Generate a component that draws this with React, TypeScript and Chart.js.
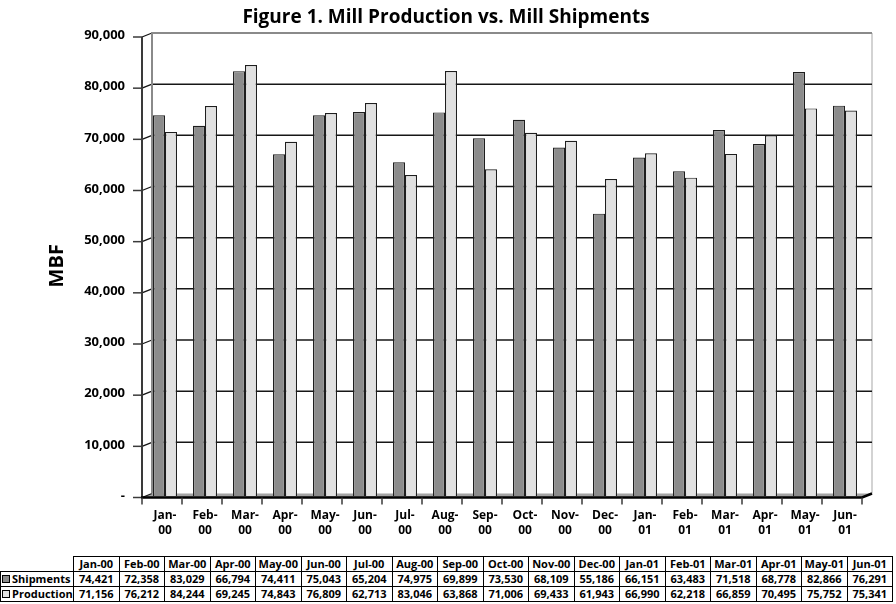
import React, { useEffect, useRef } from "react";
import { Chart, registerables } from "chart.js";

Chart.register(...registerables);

// ---------- data ----------
const categories = [
  "Jan-00", "Feb-00", "Mar-00", "Apr-00", "May-00", "Jun-00", "Jul-00", "Aug-00", "Sep-00",
  "Oct-00", "Nov-00", "Dec-00", "Jan-01", "Feb-01", "Mar-01", "Apr-01", "May-01", "Jun-01",
];
const shipments = [
  74421, 72358, 83029, 66794, 74411, 75043, 65204, 74975, 69899,
  73530, 68109, 55186, 66151, 63483, 71518, 68778, 82866, 76291,
];
const production = [
  71156, 76212, 84244, 69245, 74843, 76809, 62713, 83046, 63868,
  71006, 69433, 61943, 66990, 62218, 66859, 70495, 75752, 75341,
];
const seriesNames = ["Shipments", "Production"];
const seriesColors = ["#8c8c8c", "#e0e0e0"];
const chartTitle = "Figure 1. Mill Production vs. Mill Shipments";
const yAxisTitle = "MBF";
const yMin = 0;
const yMax = 90000;
const yStep = 10000;

// ---------- layout ----------
const FONT = "'Open Sans', 'DejaVu Sans', sans-serif";
const W = 896;
const CH = 550;
const PLOT_L = 145;
const PLOT_R = 865;
const PLOT_T = 35.5;
const PLOT_B = 496;
const FRONT_DX = -3;
const FRONT_DY = 1.5;
const BACK_DX = 7;
const BACK_DY = -2.5;

const fmt = (v: number) => (v === 0 ? "-" : v.toLocaleString("en-US"));

const frame3d = {
  id: "frame3d",
  beforeDatasetsDraw(chart: any) {
    const { ctx, chartArea: a, scales } = chart;
    const y = scales.y;
    const yb = (v: number) => y.getPixelForValue(v) + BACK_DY;
    const yf = (v: number) => y.getPixelForValue(v) + FRONT_DY;
    const bl = a.left + BACK_DX;
    const br = a.right + BACK_DX;
    const fl = a.left + FRONT_DX;
    const fr = a.right + FRONT_DX;
    ctx.save();
    // floor
    ctx.fillStyle = "#a4a4a4";
    ctx.beginPath();
    ctx.moveTo(fl, yf(yMin));
    ctx.lineTo(fr, yf(yMin));
    ctx.lineTo(br, yb(yMin));
    ctx.lineTo(bl, yb(yMin));
    ctx.closePath();
    ctx.fill();
    // right wall edge
    ctx.strokeStyle = "#c4c4c4";
    ctx.lineWidth = 1.5;
    ctx.beginPath();
    ctx.moveTo(br, yb(yMax));
    ctx.lineTo(br, yb(yMin));
    ctx.stroke();
    // gridlines + connectors
    for (let v = yMin + yStep; v < yMax; v += yStep) {
      ctx.strokeStyle = "#161616";
      ctx.lineWidth = 1.5;
      ctx.beginPath();
      ctx.moveTo(bl, yb(v));
      ctx.lineTo(br, yb(v));
      ctx.stroke();
    }
    for (let v = yMin; v <= yMax; v += yStep) {
      ctx.strokeStyle = "#161616";
      ctx.lineWidth = 1.3;
      ctx.beginPath();
      ctx.moveTo(fl, yf(v));
      ctx.lineTo(bl, yb(v));
      ctx.stroke();
    }
    // back wall left & top
    ctx.strokeStyle = "#8a8a8a";
    ctx.lineWidth = 2;
    ctx.beginPath();
    ctx.moveTo(bl, yb(yMin));
    ctx.lineTo(bl, yb(yMax));
    ctx.lineTo(br, yb(yMax));
    ctx.stroke();
    ctx.restore();
  },
  afterDatasetsDraw(chart: any) {
    const { ctx, chartArea: a, scales } = chart;
    const y = scales.y;
    const x = scales.x;
    const yf = (v: number) => y.getPixelForValue(v) + FRONT_DY;
    const yb = (v: number) => y.getPixelForValue(v) + BACK_DY;
    const fl = a.left + FRONT_DX;
    const fr = a.right + FRONT_DX;
    const br = a.right + BACK_DX;
    ctx.save();
    // front vertical axis
    ctx.strokeStyle = "#3a3a3a";
    ctx.lineWidth = 2;
    ctx.beginPath();
    ctx.moveTo(fl, yf(yMax));
    ctx.lineTo(fl, yf(yMin));
    ctx.stroke();
    // y tick marks
    ctx.lineWidth = 1.5;
    for (let v = yMin; v <= yMax; v += yStep) {
      ctx.beginPath();
      ctx.moveTo(fl - 9, yf(v));
      ctx.lineTo(fl, yf(v));
      ctx.stroke();
    }
    // baseline
    ctx.strokeStyle = "#000";
    ctx.lineWidth = 2.5;
    ctx.beginPath();
    ctx.moveTo(fl - 1, yf(yMin));
    ctx.lineTo(fr, yf(yMin));
    ctx.lineTo(br, yb(yMin));
    ctx.stroke();
    // x tick marks
    const n = categories.length;
    const step = x.getPixelForValue(1) - x.getPixelForValue(0);
    ctx.strokeStyle = "#3a3a3a";
    ctx.lineWidth = 1.5;
    for (let i = 0; i <= n; i++) {
      const px = x.getPixelForValue(0) - step / 2 + step * i + FRONT_DX;
      ctx.beginPath();
      ctx.moveTo(px, yf(yMin));
      ctx.lineTo(px, yf(yMin) + 7);
      ctx.stroke();
    }
    ctx.restore();
  },
  afterDraw(chart: any) {
    const { ctx } = chart;
    ctx.save();
    ctx.fillStyle = "#000";
    ctx.font = `bold 19px ${FONT}`;
    ctx.textAlign = "center";
    ctx.textBaseline = "middle";
    ctx.fillText(chartTitle, 446, 18);
    ctx.restore();
  },
};

function ChartCanvas() {
  const ref = useRef<HTMLCanvasElement | null>(null);
  useEffect(() => {
    if (!ref.current) return;
    Chart.defaults.font.family = FONT;
    const chart = new Chart(ref.current, {
      type: "bar",
      data: {
        labels: categories.map((c) => {
          const [m, yr] = c.split("-");
          return [m + "-", yr];
        }),
        datasets: [
          {
            label: seriesNames[0],
            data: shipments,
            backgroundColor: seriesColors[0],
            borderColor: "#1e1e1e",
            borderWidth: 1.2,
            barPercentage: 1,
            categoryPercentage: 0.6,
          },
          {
            label: seriesNames[1],
            data: production,
            backgroundColor: seriesColors[1],
            borderColor: "#1e1e1e",
            borderWidth: 1.2,
            barPercentage: 1,
            categoryPercentage: 0.6,
          },
        ],
      },
      options: {
        animation: false,
        responsive: true,
        maintainAspectRatio: false,
        layout: { padding: { top: PLOT_T, right: W - PLOT_R, left: 0, bottom: 0 } },
        plugins: {
          legend: { display: false },
          tooltip: { enabled: false },
          title: { display: false },
        },
        scales: {
          x: {
            grid: { display: false },
            border: { display: false },
            ticks: {
              color: "#000",
              font: { size: 12, weight: "bold", family: FONT, lineHeight: 1.25 },
              padding: 4,
              maxRotation: 0,
              minRotation: 0,
              autoSkip: false,
            },
            afterFit: (s: any) => {
              s.height = CH - PLOT_B;
            },
          },
          y: {
            min: yMin,
            max: yMax,
            grid: { display: false, drawTicks: false },
            border: { display: false },
            ticks: {
              stepSize: yStep,
              color: "#000",
              font: { size: 13, weight: "bold", family: FONT },
              padding: 20,
              callback: (v: any) => fmt(Number(v)),
            },
            title: {
              display: true,
              text: yAxisTitle,
              color: "#000",
              font: { size: 20, weight: "bold", family: FONT },
              padding: { top: 45, bottom: 0 },
            },
            afterFit: (s: any) => {
              s.width = PLOT_L;
            },
          },
        },
      },
      plugins: [frame3d],
    } as any);
    return () => chart.destroy();
  }, []);
  return (
    <div style={{ position: "absolute", left: 0, top: 0, width: W, height: CH }}>
      <canvas ref={ref} />
    </div>
  );
}

const cellBase: React.CSSProperties = {
  border: "1px solid #000",
  padding: 0,
  height: 14,
  lineHeight: "14px",
  textAlign: "center",
  whiteSpace: "nowrap",
  overflow: "hidden",
};

function DataTable() {
  const rows = [shipments, production];
  return (
    <table
      style={{
        position: "absolute",
        left: 0,
        top: 556,
        borderCollapse: "collapse",
        tableLayout: "fixed",
        width: 73 + 45.5 * categories.length,
        fontFamily: FONT,
        fontWeight: "bold",
        fontSize: 11,
        color: "#000",
      }}
    >
      <colgroup>
        <col style={{ width: 73 }} />
        {categories.map((c) => (
          <col key={c} style={{ width: 45.5 }} />
        ))}
      </colgroup>
      <tbody>
        <tr>
          <td style={{ ...cellBase, border: "none", borderRight: "1px solid #000" }}></td>
          {categories.map((c) => (
            <td key={c} style={cellBase}>
              {c}
            </td>
          ))}
        </tr>
        {rows.map((r, ri) => (
          <tr key={seriesNames[ri]}>
            <td style={{ ...cellBase, textAlign: "left", paddingLeft: 1 }}>
              <span
                style={{
                  display: "inline-block",
                  width: 6,
                  height: 6,
                  border: "1px solid #000",
                  background: seriesColors[ri],
                  marginRight: 2,
                  verticalAlign: "middle",
                  position: "relative",
                  top: -1,
                }}
              />
              {seriesNames[ri]}
            </td>
            {r.map((v, i) => (
              <td key={i} style={cellBase}>
                {fmt(v)}
              </td>
            ))}
          </tr>
        ))}
      </tbody>
    </table>
  );
}

export default function App() {
  return (
    <div style={{ position: "absolute", left: 0, top: 0, width: W, height: 604, background: "#fff" }}>
      <ChartCanvas />
      <DataTable />
    </div>
  );
}
